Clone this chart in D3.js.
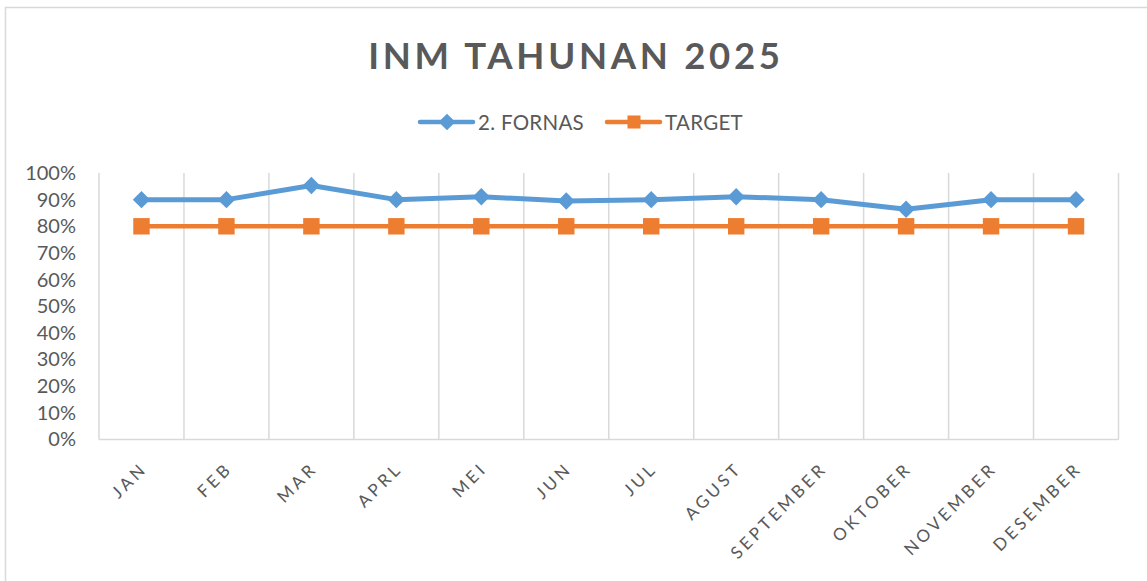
<!DOCTYPE html>
<html>
<head>
<meta charset="utf-8">
<script src="https://cdn.jsdelivr.net/npm/d3@7"></script>
<style>
  html, body { margin: 0; padding: 0; background: #fff; }
  svg { display: block; font-family: Lato, "Open Sans", sans-serif; }
</style>
</head>
<body>
<svg id="chart" width="1147" height="581"></svg>
<script>
const months = ["JAN","FEB","MAR","APRL","MEI","JUN","JUL","AGUST","SEPTEMBER","OKTOBER","NOVEMBER","DESEMBER"];
const fornas = [0.90, 0.90, 0.953, 0.90, 0.911, 0.895, 0.90, 0.911, 0.90, 0.864, 0.90, 0.90];
const target = [0.80, 0.80, 0.80, 0.80, 0.80, 0.80, 0.80, 0.80, 0.80, 0.80, 0.80, 0.80];
const yTicks = [0, 0.1, 0.2, 0.3, 0.4, 0.5, 0.6, 0.7, 0.8, 0.9, 1.0];
const seriesNames = ["2. FORNAS", "TARGET"];
const titleText = "INM TAHUNAN 2025";

const svg = d3.select("#chart");
const W = 1147, H = 581;
const textColor = "#595959";
const gridColor = "#D9D9D9";
const blue = "#5B9BD5", orange = "#ED7D31";

// outer border
svg.append("rect").attr("x", 5.5).attr("y", 7.5).attr("width", W + 10).attr("height", H + 10)
  .attr("fill", "none").attr("stroke", gridColor).attr("stroke-width", 1.5);

const x = d3.scaleBand().domain(months).range([99, 1118.5]);
const y = d3.scaleLinear().domain([0, 1]).range([439.5, 173]);

// vertical gridlines at category boundaries
const bounds = months.map(m => x(m)).concat([x.range()[1]]);
svg.append("g").selectAll("line").data(bounds).join("line")
  .attr("x1", d => d).attr("x2", d => d)
  .attr("y1", y(1)).attr("y2", y(0))
  .attr("stroke", gridColor).attr("stroke-width", 1.5);

// x axis line
svg.append("line").attr("x1", x.range()[0]).attr("x2", x.range()[1])
  .attr("y1", y(0)).attr("y2", y(0)).attr("stroke", gridColor).attr("stroke-width", 1.5);

// y axis labels
const yAxis = d3.axisLeft(y).tickValues(yTicks).tickFormat(d3.format(".0%")).tickSize(0).tickPadding(0);
const yg = svg.append("g").attr("transform", "translate(76,0)").call(yAxis);
yg.select(".domain").remove();
yg.selectAll("text").attr("fill", textColor).attr("font-size", 20).attr("font-family", "Lato, sans-serif");

// x axis labels
const xAxis = d3.axisBottom(x).tickSize(0).tickPadding(0);
const xg = svg.append("g").attr("transform", `translate(0,${y(0)})`).call(xAxis);
xg.select(".domain").remove();
xg.selectAll("text")
  .attr("fill", textColor).attr("font-size", 17).attr("font-family", "Lato, sans-serif")
  .attr("letter-spacing", "3.5px")
  .attr("text-anchor", "end")
  .attr("dy", null).attr("y", 0)
  .attr("transform", "translate(7,30) rotate(-45)");

const cx = m => x(m) + x.bandwidth() / 2;

// lines
const line = d3.line().x((d, i) => cx(months[i])).y(d => y(d));
svg.append("path").datum(fornas).attr("d", line).attr("fill", "none")
  .attr("stroke", blue).attr("stroke-width", 5).attr("stroke-linejoin", "round").attr("stroke-linecap", "round");
svg.append("path").datum(target).attr("d", line).attr("fill", "none")
  .attr("stroke", orange).attr("stroke-width", 4.5).attr("stroke-linejoin", "round");

// markers
const diamond = d3.symbol().type(d3.symbolSquare).size(150);
const square = d3.symbol().type(d3.symbolSquare).size(270);
svg.append("g").selectAll("path").data(fornas).join("path")
  .attr("d", diamond)
  .attr("transform", (d, i) => `translate(${cx(months[i])},${y(d)}) rotate(45)`)
  .attr("fill", blue);
svg.append("g").selectAll("path").data(target).join("path")
  .attr("d", square)
  .attr("transform", (d, i) => `translate(${cx(months[i])},${y(d)})`)
  .attr("fill", orange);

// title
svg.append("text").attr("x", 576).attr("y", 69).attr("text-anchor", "middle")
  .attr("font-size", 36.5).attr("font-weight", "bold").attr("letter-spacing", "3.7px")
  .attr("fill", textColor).text(titleText);

// legend
const legend = svg.append("g");
const legItems = [
  { name: seriesNames[0], color: blue, x0: 420, rot: 45, size: 140 },
  { name: seriesNames[1], color: orange, x0: 607, rot: 0, size: 170 }
];
legItems.forEach(it => {
  legend.append("line").attr("x1", it.x0).attr("x2", it.x0 + 53).attr("y1", 122).attr("y2", 122)
    .attr("stroke", it.color).attr("stroke-width", 4.5).attr("stroke-linecap", "round");
  legend.append("path").attr("d", d3.symbol().type(d3.symbolSquare).size(it.size))
    .attr("transform", `translate(${it.x0 + 27},122) rotate(${it.rot})`).attr("fill", it.color);
  legend.append("text").attr("x", it.x0 + 58).attr("y", 129.5).attr("font-size", 20.5)
    .attr("letter-spacing", "0.3px")
    .attr("fill", textColor).text(it.name);
});
</script>
</body>
</html>
